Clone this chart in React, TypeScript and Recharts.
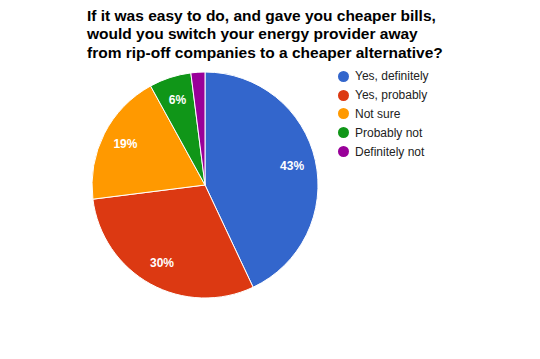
import { PieChart, Pie, Cell } from "recharts";

const answers = ["Yes, definitely", "Yes, probably", "Not sure", "Probably not", "Definitely not"];
const shares = [43, 30, 19, 6, 2];
const colors = ["#3366CC", "#DC3912", "#FF9900", "#109618", "#990099"];
const titleLines = [
  "If it was easy to do, and gave you cheaper bills,",
  "would you switch your energy provider away",
  "from rip-off companies to a cheaper alternative?",
];

const data = answers.map((name, i) => ({ name, value: shares[i] }));

const FONT = "Arial, 'Liberation Sans', Helvetica, sans-serif";
const RAD = Math.PI / 180;

// white percentage inside slices, tiny slices get none
const renderLabel = (props: any) => {
  const { cx, cy, midAngle, outerRadius, percent } = props;
  if (percent < 0.04) return null;
  const r = outerRadius * 0.79;
  const x = cx + r * Math.cos(-midAngle * RAD);
  const y = cy + r * Math.sin(-midAngle * RAD);
  return (
    <text
      x={x}
      y={y}
      fill="#ffffff"
      textAnchor="middle"
      dominantBaseline="central"
      fontFamily={FONT}
      fontSize={12}
      fontWeight="bold"
    >
      {`${Math.round(percent * 100)}%`}
    </text>
  );
};

function LegendList() {
  return (
    <div style={{ position: "absolute", left: 338, top: 67, fontFamily: FONT, fontSize: 12, color: "#222" }}>
      {answers.map((name, i) => (
        <div key={name} style={{ display: "flex", alignItems: "center", height: 18.8 }}>
          <span
            style={{
              display: "inline-block",
              width: 11,
              height: 11,
              borderRadius: "50%",
              background: colors[i],
              marginRight: 6,
            }}
          />
          <span>{name}</span>
        </div>
      ))}
    </div>
  );
}

export default function App() {
  return (
    <div style={{ position: "absolute", left: 0, top: 0, width: 540, height: 359, background: "#fff" }}>
      <svg width={540} height={70} style={{ position: "absolute", left: 0, top: 0 }}>
        {titleLines.map((line, i) => (
          <text
            key={i}
            x={87}
            y={20.5 + i * 18.7}
            fontFamily={FONT}
            fontSize={15.5}
            fontWeight="bold"
            fill="#000"
          >
            {line}
          </text>
        ))}
      </svg>
      <PieChart
        width={540}
        height={359}
        margin={{ top: 0, right: 0, bottom: 0, left: 0 }}
        style={{ position: "absolute", left: 0, top: 0 }}
      >
        <Pie
          data={data}
          dataKey="value"
          nameKey="name"
          cx={205}
          cy={185}
          outerRadius={113}
          startAngle={90}
          endAngle={-270}
          stroke="#ffffff"
          strokeWidth={1}
          label={renderLabel}
          labelLine={false}
          isAnimationActive={false}
        >
          {data.map((d, i) => (
            <Cell key={d.name} fill={colors[i]} />
          ))}
        </Pie>
      </PieChart>
      <LegendList />
    </div>
  );
}
